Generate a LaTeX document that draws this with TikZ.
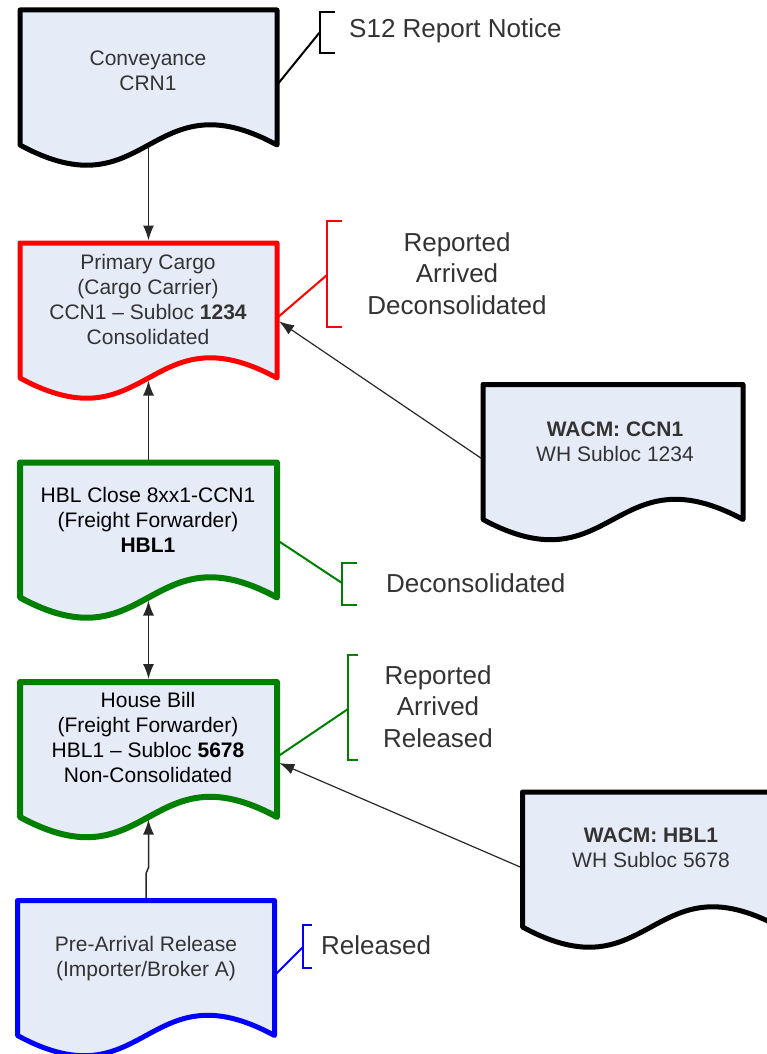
\documentclass[tikz,border=0pt]{standalone}
\usepackage{fontspec}
\setmainfont{Liberation Sans}
\usetikzlibrary{arrows.meta,calc}
\definecolor{docfill}{RGB}{230,236,247}
\definecolor{tgray}{RGB}{51,51,51}
\definecolor{dgreen}{RGB}{0,128,0}
\definecolor{cgray}{RGB}{40,40,40}
\newcommand\docshape[2]{%
  \draw[docline, draw=#2] (#1.north west) -- (#1.north east) -- (#1.south east)
    .. controls ($(#1.south)+(0,-70)$) and ($(#1.south)+(0,70)$) .. (#1.south west) -- cycle;}
\begin{document}
\begin{tikzpicture}[x=1pt,y=-1pt,
  box/.style={minimum width=257pt,minimum height=135pt,inner sep=0pt,outer sep=0pt},
  docline/.style={line width=5pt,fill=docfill,line join=round},
  doctext/.style={align=center,font=\fontsize{21}{25}\selectfont,text=tgray,inner sep=0pt},
  sidetext/.style={align=center,font=\fontsize{26}{31.5}\selectfont,text=tgray,inner sep=0pt},
  conn/.style={line width=1.5pt,draw=cgray,-{Latex[length=15pt,width=11pt]},shorten >=2.5pt},
  tie/.style={line width=2pt},
  bracket/.style={line width=2pt}
]
\useasboundingbox (0,0) rectangle (767,1054);
\clip (0,0) rectangle (767,1054);

% box nodes
\node[box] (d1) at (148.5,77.5) {};
\node[box] (d2) at (148.5,310.5) {};
\node[box] (d3) at (148.5,530) {};
\node[box] (d4) at (148.5,749.5) {};
\node[box] (d5) at (146,968) {};
\node[box,minimum width=260pt] (d6) at (613,452) {};
\node[box] (d7) at (651,859.5) {};

% shapes
\docshape{d1}{black}
\docshape{d2}{red}
\begin{scope}[docline/.append style={line width=6pt}]
\docshape{d3}{dgreen}
\docshape{d4}{dgreen}
\end{scope}
\docshape{d5}{blue}
\docshape{d6}{black}
\docshape{d7}{black}

% texts in shapes
\node[doctext] (d1t) at (148,71) {Conveyance\\CRN1};
\node[doctext] (d2t) at (148,299.5) {Primary Cargo\\(Cargo Carrier)\\CCN1 -- Subloc \textbf{1234}\\Consolidated};
\node[doctext,text=black] (d3t) at (148,520) {HBL Close 8xx1-CCN1\\(Freight Forwarder)\\\textbf{HBL1}};
\node[doctext,text=black] (d4t) at (148,737) {House Bill\\(Freight Forwarder)\\HBL1 -- Subloc \textbf{5678}\\Non-Consolidated};
\node[doctext] (d5t) at (146,958.5) {Pre-Arrival Release\\(Importer/Broker A)};
\node[doctext] (d6t) at (615,441.5) {\textbf{WACM: CCN1}\\WH Subloc 1234};
\node[doctext] (d7t) at (651,848) {\textbf{WACM: HBL1}\\WH Subloc 5678};

% side labels
\node[sidetext,anchor=west] (s1) at (349,31) {S12 Report Notice};
\node[sidetext] (s2) at (457,273.5) {Reported\\Arrived\\Deconsolidated};
\node[sidetext,anchor=west] (s3) at (386,583) {Deconsolidated};
\node[sidetext] (s4) at (438,706.5) {Reported\\Arrived\\Released};
\node[sidetext,anchor=west] (s5) at (321,945) {Released};

% brackets
\coordinate (b1) at (320,32);
\coordinate (b2) at (327,275);
\coordinate (b3) at (342,583);
\coordinate (b4) at (348,709);
\coordinate (b5) at (303,947);
\draw[bracket,black] (335,12) -- (320,12) -- (320,53) -- (335,53);
\draw[bracket,red] (342,221) -- (327,221) -- (327,327) -- (342,327);
\draw[bracket,dgreen] (357,563) -- (342,563) -- (342,605) -- (357,605);
\draw[bracket,dgreen] (358,655) -- (348,655) -- (348,760) -- (358,760);
\draw[bracket,blue] (312,925) -- (303,925) -- (303,968) -- (312,968);

% ties
\draw[tie,black] ($(d1.north east)+(0,75)$) -- (b1);
\draw[tie,red] ($(d2.north east)+(0,75)$) -- (b2);
\draw[tie,dgreen] ($(d3.north east)+(0,77.5)$) -- (b3);
\draw[tie,dgreen] ($(d4.north east)+(0,75)$) -- (b4);
\draw[tie,blue] ($(d5.north east)+(0,75)$) -- (b5);

% connectors
\draw[conn,shorten <=2.5pt] (d1.south) -- (d2.north);
\draw[conn,shorten <=3pt] (d3.north) -- (d2.south);
\draw[conn,{Latex[length=15pt,width=11pt]}-{Latex[length=15pt,width=11pt]},shorten <=3pt,shorten >=3pt] (d3.south) -- (d4.north);
\draw[conn,shorten <=2.5pt] (d5.north) -- ++(0,-27) -- ++(2.5,-6) -- (d4.south);
\draw[conn,line width=1.2pt,shorten <=2.5pt] ($(d6.north west)+(0,75)$) -- ($(d2.north east)+(0,77)$);
\draw[conn,line width=1.2pt,shorten <=2.5pt] ($(d7.north west)+(0,76)$) -- ($(d4.north east)+(0,80)$);
\end{tikzpicture}
\end{document}
